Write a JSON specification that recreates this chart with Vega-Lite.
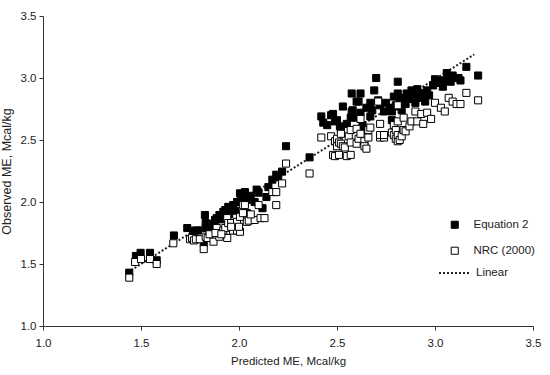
{
  "$schema": "https://vega.github.io/schema/vega-lite/v6.json",
  "width": 490,
  "height": 310,
  "autosize": {"type": "none"},
  "padding": {"left": 43, "top": 16, "right": 17, "bottom": 49},
  "background": "white",
  "config": {
    "view": {"stroke": null},
    "font": "Liberation Sans",
    "axis": {"grid": false, "domainColor": "#333333", "tickColor": "#333333", "labelColor": "#222222", "titleColor": "#222222", "labelFontSize": 11.5, "titleFontSize": 11.5, "titleFontWeight": "normal", "tickSize": 4, "labelFont": "Liberation Sans", "titleFont": "Liberation Sans"},
    "legend": {"labelFont": "Liberation Sans", "labelFontSize": 11.5, "labelColor": "#222222"}
  },
  "datasets": {
    "pts": [
      {"x":1.44,"y":1.43,"s":"Equation 2"},{"x":1.474,"y":1.565,"s":"Equation 2"},{"x":1.498,"y":1.59,"s":"Equation 2"},{"x":1.546,"y":1.59,"s":"Equation 2"},{"x":1.58,"y":1.53,"s":"Equation 2"},
      {"x":1.668,"y":1.73,"s":"Equation 2"},{"x":1.736,"y":1.79,"s":"Equation 2"},{"x":1.767,"y":1.76,"s":"Equation 2"},{"x":1.775,"y":1.77,"s":"Equation 2"},{"x":1.79,"y":1.77,"s":"Equation 2"},
      {"x":1.82,"y":1.67,"s":"Equation 2"},{"x":1.826,"y":1.895,"s":"Equation 2"},{"x":1.83,"y":1.83,"s":"Equation 2"},{"x":1.83,"y":1.79,"s":"Equation 2"},{"x":1.878,"y":1.855,"s":"Equation 2"},
      {"x":1.886,"y":1.87,"s":"Equation 2"},{"x":1.90,"y":1.895,"s":"Equation 2"},{"x":1.92,"y":1.92,"s":"Equation 2"},{"x":1.93,"y":1.935,"s":"Equation 2"},{"x":1.945,"y":1.96,"s":"Equation 2"},
      {"x":1.95,"y":1.96,"s":"Equation 2"},{"x":1.97,"y":1.975,"s":"Equation 2"},{"x":1.99,"y":2.00,"s":"Equation 2"},{"x":2.005,"y":2.07,"s":"Equation 2"},{"x":2.01,"y":2.056,"s":"Equation 2"},
      {"x":2.02,"y":2.04,"s":"Equation 2"},{"x":2.03,"y":2.08,"s":"Equation 2"},{"x":2.04,"y":2.016,"s":"Equation 2"},{"x":2.04,"y":1.91,"s":"Equation 2"},{"x":2.09,"y":2.10,"s":"Equation 2"},
      {"x":2.10,"y":2.075,"s":"Equation 2"},{"x":2.12,"y":1.95,"s":"Equation 2"},{"x":2.17,"y":2.18,"s":"Equation 2"},{"x":2.19,"y":2.22,"s":"Equation 2"},{"x":2.22,"y":2.245,"s":"Equation 2"},
      {"x":2.24,"y":2.45,"s":"Equation 2"},{"x":2.36,"y":2.36,"s":"Equation 2"},{"x":1.85,"y":1.78,"s":"Equation 2"},{"x":1.87,"y":1.82,"s":"Equation 2"},{"x":1.91,"y":1.86,"s":"Equation 2"},
      {"x":1.95,"y":1.90,"s":"Equation 2"},{"x":1.98,"y":1.93,"s":"Equation 2"},{"x":2.06,"y":2.05,"s":"Equation 2"},{"x":2.08,"y":2.00,"s":"Equation 2"},{"x":2.14,"y":2.04,"s":"Equation 2"},
      {"x":2.15,"y":2.12,"s":"Equation 2"},{"x":2.20,"y":2.20,"s":"Equation 2"},
      {"x":2.42,"y":2.69,"s":"Equation 2"},{"x":2.47,"y":2.70,"s":"Equation 2"},{"x":2.48,"y":2.71,"s":"Equation 2"},{"x":2.49,"y":2.65,"s":"Equation 2"},{"x":2.50,"y":2.66,"s":"Equation 2"},
      {"x":2.515,"y":2.61,"s":"Equation 2"},{"x":2.52,"y":2.59,"s":"Equation 2"},{"x":2.53,"y":2.77,"s":"Equation 2"},{"x":2.575,"y":2.875,"s":"Equation 2"},{"x":2.575,"y":2.73,"s":"Equation 2"},
      {"x":2.58,"y":2.74,"s":"Equation 2"},{"x":2.60,"y":2.81,"s":"Equation 2"},{"x":2.60,"y":2.68,"s":"Equation 2"},{"x":2.61,"y":2.81,"s":"Equation 2"},{"x":2.62,"y":2.875,"s":"Equation 2"},
      {"x":2.63,"y":2.62,"s":"Equation 2"},{"x":2.64,"y":2.58,"s":"Equation 2"},{"x":2.67,"y":2.80,"s":"Equation 2"},{"x":2.67,"y":2.69,"s":"Equation 2"},{"x":2.69,"y":2.90,"s":"Equation 2"},
      {"x":2.70,"y":3.00,"s":"Equation 2"},{"x":2.71,"y":2.82,"s":"Equation 2"},{"x":2.74,"y":2.73,"s":"Equation 2"},{"x":2.78,"y":2.73,"s":"Equation 2"},{"x":2.78,"y":2.66,"s":"Equation 2"},
      {"x":2.80,"y":2.78,"s":"Equation 2"},{"x":2.81,"y":2.97,"s":"Equation 2"},{"x":2.81,"y":2.875,"s":"Equation 2"},{"x":2.82,"y":2.77,"s":"Equation 2"},{"x":2.83,"y":2.74,"s":"Equation 2"},
      {"x":2.84,"y":2.84,"s":"Equation 2"},{"x":2.855,"y":2.875,"s":"Equation 2"},{"x":2.88,"y":2.90,"s":"Equation 2"},{"x":2.88,"y":2.83,"s":"Equation 2"},{"x":2.91,"y":2.91,"s":"Equation 2"},
      {"x":2.92,"y":2.86,"s":"Equation 2"},{"x":2.95,"y":2.81,"s":"Equation 2"},{"x":2.96,"y":2.90,"s":"Equation 2"},{"x":2.97,"y":2.86,"s":"Equation 2"},{"x":3.00,"y":2.99,"s":"Equation 2"},
      {"x":3.025,"y":2.96,"s":"Equation 2"},{"x":3.04,"y":2.93,"s":"Equation 2"},{"x":3.06,"y":3.04,"s":"Equation 2"},{"x":3.09,"y":3.02,"s":"Equation 2"},{"x":3.10,"y":3.00,"s":"Equation 2"},
      {"x":3.13,"y":2.98,"s":"Equation 2"},{"x":3.16,"y":3.09,"s":"Equation 2"},{"x":3.22,"y":3.02,"s":"Equation 2"},{"x":2.55,"y":2.63,"s":"Equation 2"},{"x":2.57,"y":2.68,"s":"Equation 2"},
      {"x":2.62,"y":2.72,"s":"Equation 2"},{"x":2.65,"y":2.76,"s":"Equation 2"},{"x":2.68,"y":2.74,"s":"Equation 2"},{"x":2.72,"y":2.78,"s":"Equation 2"},{"x":2.75,"y":2.80,"s":"Equation 2"},
      {"x":2.77,"y":2.76,"s":"Equation 2"},{"x":2.79,"y":2.85,"s":"Equation 2"},{"x":2.82,"y":2.82,"s":"Equation 2"},{"x":2.85,"y":2.79,"s":"Equation 2"},{"x":2.86,"y":2.86,"s":"Equation 2"},
      {"x":2.89,"y":2.87,"s":"Equation 2"},{"x":2.90,"y":2.80,"s":"Equation 2"},{"x":2.93,"y":2.84,"s":"Equation 2"},{"x":2.94,"y":2.88,"s":"Equation 2"},{"x":2.99,"y":2.94,"s":"Equation 2"},
      {"x":3.02,"y":2.98,"s":"Equation 2"},{"x":3.05,"y":2.98,"s":"Equation 2"},{"x":3.08,"y":2.97,"s":"Equation 2"},{"x":3.12,"y":3.00,"s":"Equation 2"},{"x":2.43,"y":2.64,"s":"Equation 2"},
      {"x":2.45,"y":2.62,"s":"Equation 2"},
      {"x":1.44,"y":1.39,"s":"NRC (2000)"},{"x":1.47,"y":1.516,"s":"NRC (2000)"},{"x":1.50,"y":1.54,"s":"NRC (2000)"},{"x":1.546,"y":1.54,"s":"NRC (2000)"},{"x":1.58,"y":1.50,"s":"NRC (2000)"},
      {"x":1.665,"y":1.667,"s":"NRC (2000)"},{"x":1.75,"y":1.70,"s":"NRC (2000)"},{"x":1.76,"y":1.71,"s":"NRC (2000)"},{"x":1.77,"y":1.69,"s":"NRC (2000)"},{"x":1.78,"y":1.70,"s":"NRC (2000)"},
      {"x":1.80,"y":1.70,"s":"NRC (2000)"},{"x":1.82,"y":1.62,"s":"NRC (2000)"},{"x":1.83,"y":1.72,"s":"NRC (2000)"},{"x":1.84,"y":1.71,"s":"NRC (2000)"},{"x":1.87,"y":1.68,"s":"NRC (2000)"},
      {"x":1.886,"y":1.79,"s":"NRC (2000)"},{"x":1.90,"y":1.72,"s":"NRC (2000)"},{"x":1.92,"y":1.77,"s":"NRC (2000)"},{"x":1.93,"y":1.79,"s":"NRC (2000)"},{"x":1.94,"y":1.71,"s":"NRC (2000)"},
      {"x":1.94,"y":1.87,"s":"NRC (2000)"},{"x":1.945,"y":1.83,"s":"NRC (2000)"},{"x":1.96,"y":1.83,"s":"NRC (2000)"},{"x":1.97,"y":1.77,"s":"NRC (2000)"},{"x":1.99,"y":1.84,"s":"NRC (2000)"},
      {"x":1.99,"y":1.77,"s":"NRC (2000)"},{"x":2.005,"y":1.76,"s":"NRC (2000)"},{"x":2.005,"y":1.88,"s":"NRC (2000)"},{"x":2.02,"y":1.975,"s":"NRC (2000)"},{"x":2.02,"y":1.91,"s":"NRC (2000)"},
      {"x":2.03,"y":1.975,"s":"NRC (2000)"},{"x":2.04,"y":1.84,"s":"NRC (2000)"},{"x":2.05,"y":1.85,"s":"NRC (2000)"},{"x":2.08,"y":1.855,"s":"NRC (2000)"},{"x":2.10,"y":1.975,"s":"NRC (2000)"},
      {"x":2.11,"y":1.87,"s":"NRC (2000)"},{"x":2.13,"y":1.87,"s":"NRC (2000)"},{"x":2.17,"y":2.08,"s":"NRC (2000)"},{"x":2.19,"y":2.08,"s":"NRC (2000)"},{"x":2.19,"y":1.975,"s":"NRC (2000)"},
      {"x":2.22,"y":2.15,"s":"NRC (2000)"},{"x":2.24,"y":2.31,"s":"NRC (2000)"},{"x":2.36,"y":2.23,"s":"NRC (2000)"},{"x":1.85,"y":1.74,"s":"NRC (2000)"},{"x":1.88,"y":1.75,"s":"NRC (2000)"},
      {"x":1.96,"y":1.80,"s":"NRC (2000)"},{"x":2.00,"y":1.80,"s":"NRC (2000)"},{"x":2.06,"y":1.90,"s":"NRC (2000)"},{"x":1.91,"y":1.74,"s":"NRC (2000)"},
      {"x":2.42,"y":2.52,"s":"NRC (2000)"},{"x":2.47,"y":2.53,"s":"NRC (2000)"},{"x":2.48,"y":2.38,"s":"NRC (2000)"},{"x":2.49,"y":2.37,"s":"NRC (2000)"},{"x":2.49,"y":2.49,"s":"NRC (2000)"},
      {"x":2.50,"y":2.45,"s":"NRC (2000)"},{"x":2.50,"y":2.51,"s":"NRC (2000)"},{"x":2.51,"y":2.38,"s":"NRC (2000)"},{"x":2.51,"y":2.48,"s":"NRC (2000)"},{"x":2.52,"y":2.55,"s":"NRC (2000)"},
      {"x":2.52,"y":2.47,"s":"NRC (2000)"},{"x":2.53,"y":2.45,"s":"NRC (2000)"},{"x":2.54,"y":2.44,"s":"NRC (2000)"},{"x":2.55,"y":2.37,"s":"NRC (2000)"},{"x":2.56,"y":2.53,"s":"NRC (2000)"},
      {"x":2.57,"y":2.48,"s":"NRC (2000)"},{"x":2.57,"y":2.58,"s":"NRC (2000)"},{"x":2.57,"y":2.38,"s":"NRC (2000)"},{"x":2.60,"y":2.59,"s":"NRC (2000)"},{"x":2.60,"y":2.47,"s":"NRC (2000)"},
      {"x":2.61,"y":2.51,"s":"NRC (2000)"},{"x":2.62,"y":2.55,"s":"NRC (2000)"},{"x":2.62,"y":2.67,"s":"NRC (2000)"},{"x":2.64,"y":2.49,"s":"NRC (2000)"},{"x":2.64,"y":2.45,"s":"NRC (2000)"},
      {"x":2.65,"y":2.43,"s":"NRC (2000)"},{"x":2.66,"y":2.52,"s":"NRC (2000)"},{"x":2.66,"y":2.58,"s":"NRC (2000)"},{"x":2.67,"y":2.60,"s":"NRC (2000)"},{"x":2.71,"y":2.81,"s":"NRC (2000)"},
      {"x":2.72,"y":2.52,"s":"NRC (2000)"},{"x":2.72,"y":2.63,"s":"NRC (2000)"},{"x":2.72,"y":2.54,"s":"NRC (2000)"},{"x":2.74,"y":2.52,"s":"NRC (2000)"},{"x":2.74,"y":2.54,"s":"NRC (2000)"},
      {"x":2.78,"y":2.56,"s":"NRC (2000)"},{"x":2.79,"y":2.54,"s":"NRC (2000)"},{"x":2.79,"y":2.62,"s":"NRC (2000)"},{"x":2.80,"y":2.51,"s":"NRC (2000)"},{"x":2.80,"y":2.58,"s":"NRC (2000)"},
      {"x":2.81,"y":2.49,"s":"NRC (2000)"},{"x":2.81,"y":2.54,"s":"NRC (2000)"},{"x":2.81,"y":2.65,"s":"NRC (2000)"},{"x":2.81,"y":2.78,"s":"NRC (2000)"},{"x":2.82,"y":2.50,"s":"NRC (2000)"},
      {"x":2.83,"y":2.53,"s":"NRC (2000)"},{"x":2.84,"y":2.68,"s":"NRC (2000)"},{"x":2.84,"y":2.58,"s":"NRC (2000)"},{"x":2.85,"y":2.57,"s":"NRC (2000)"},{"x":2.87,"y":2.61,"s":"NRC (2000)"},
      {"x":2.88,"y":2.65,"s":"NRC (2000)"},{"x":2.90,"y":2.73,"s":"NRC (2000)"},{"x":2.91,"y":2.65,"s":"NRC (2000)"},{"x":2.93,"y":2.71,"s":"NRC (2000)"},{"x":2.94,"y":2.63,"s":"NRC (2000)"},
      {"x":2.96,"y":2.72,"s":"NRC (2000)"},{"x":2.98,"y":2.67,"s":"NRC (2000)"},{"x":3.00,"y":2.80,"s":"NRC (2000)"},{"x":3.03,"y":2.76,"s":"NRC (2000)"},{"x":3.05,"y":2.73,"s":"NRC (2000)"},
      {"x":3.07,"y":2.84,"s":"NRC (2000)"},{"x":3.09,"y":2.81,"s":"NRC (2000)"},{"x":3.11,"y":2.79,"s":"NRC (2000)"},{"x":3.13,"y":2.79,"s":"NRC (2000)"},{"x":3.16,"y":2.88,"s":"NRC (2000)"},
      {"x":3.22,"y":2.82,"s":"NRC (2000)"}
    ],
    "line": [
      {"x":1.45,"y":1.45,"s":"Linear"},
      {"x":3.20,"y":3.19,"s":"Linear"}
    ]
  },
  "layer": [
    {
      "data": {"name": "line"},
      "mark": {"type": "line", "color": "#222222", "strokeWidth": 2, "strokeDash": [2, 3]},
      "encoding": {
        "x": {"field": "x", "type": "quantitative", "scale": {"domain": [1, 3.5], "nice": false, "zero": false}, "axis": {"title": "Predicted ME, Mcal/kg", "values": [1, 1.5, 2, 2.5, 3, 3.5], "format": ".1f", "labelPadding": 7, "titlePadding": 7, "labelOverlap": false, "labelFlush": false}},
        "y": {"field": "y", "type": "quantitative", "scale": {"domain": [1, 3.5], "nice": false, "zero": false}, "axis": {"title": "Observed ME, Mcal/kg", "titleFontSize": 12.5, "values": [1, 1.5, 2, 2.5, 3, 3.5], "format": ".1f", "labelPadding": 3, "titlePadding": 7, "labelOverlap": false, "labelFlush": false}},
        "strokeDash": {"field": "s", "type": "nominal", "scale": {"domain": ["Linear"], "range": [[2, 2]]}, "legend": {"title": null, "orient": "none", "legendX": 395, "legendY": 241, "symbolType": "stroke", "symbolSize": 900, "symbolStrokeWidth": 2, "symbolStrokeColor": "#222222", "labelOffset": 6}}
      }
    },
    {
      "data": {"name": "pts"},
      "mark": {"type": "point", "shape": "square", "filled": true, "size": 50, "stroke": "black", "strokeWidth": 1, "opacity": 1},
      "encoding": {
        "x": {"field": "x", "type": "quantitative"},
        "y": {"field": "y", "type": "quantitative"},
        "fill": {"field": "s", "type": "nominal", "scale": {"domain": ["Equation 2", "NRC (2000)"], "range": ["black", "white"]}, "legend": {"title": null, "orient": "none", "legendX": 406, "legendY": 203, "symbolType": "square", "symbolSize": 50, "symbolStrokeColor": "black", "symbolStrokeWidth": 1, "symbolOpacity": 1, "labelOffset": 13, "rowPadding": 13}}
      }
    }
  ]
}
